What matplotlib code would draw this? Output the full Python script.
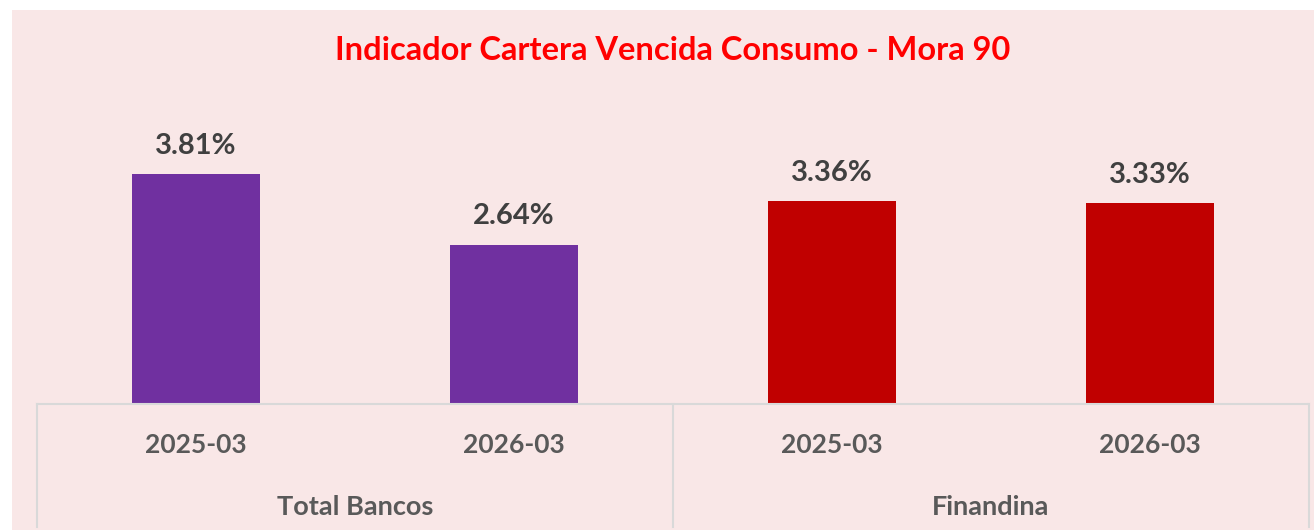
import matplotlib.pyplot as plt
from matplotlib.patches import Rectangle
from matplotlib.lines import Line2D

plt.rcParams['font.family'] = ['Lato', 'DejaVu Sans']

# data
periods = ['2025-03', '2026-03', '2025-03', '2026-03']
values = [3.81, 2.64, 3.36, 3.33]
groups = ['Total Bancos', 'Finandina']
group_sizes = [2, 2]
group_colors = ['#7030A0', '#C00000']

W, H = 1314, 530
fig = plt.figure(figsize=(W / 100, H / 100), dpi=100, facecolor='white')

# pink chart area
fig.patches.append(Rectangle((12 / W, 0), 1 - 12 / W, 1 - 10 / H,
                             transform=fig.transFigure, facecolor='#F9E7E7',
                             edgecolor='none', zorder=-1))

ax_bottom, ax_top = 404, 100
ax = fig.add_axes([37 / W, 1 - ax_bottom / H, (1309 - 37) / W, (ax_bottom - ax_top) / H])
ax.set_facecolor('none')

colors = []
for g, n in enumerate(group_sizes):
    colors += [group_colors[g]] * n

x = list(range(len(values)))
ax.bar(x, values, width=0.4, color=colors, zorder=2)
ax.set_xlim(-0.5, len(values) - 0.5)
ax.set_ylim(0, (ax_bottom - ax_top) / 60.4)

for xi, v in zip(x, values):
    ax.annotate(f'{v:.2f}%', (xi, v), xytext=(0, 11), textcoords='offset points',
                ha='center', va='bottom', fontsize=21, fontweight='bold', color='#404040')

for s in ['top', 'right', 'left']:
    ax.spines[s].set_visible(False)
ax.spines['bottom'].set_color('#D9D9D9')
ax.spines['bottom'].set_linewidth(1.5)
ax.set_yticks([])
ax.set_xticks(x)
ax.set_xticklabels(periods, fontsize=19, fontweight='bold', color='#595959')
ax.tick_params(axis='x', length=0, pad=21)

# group dividers and labels below the axis
depth = (527 - ax_bottom) / (ax_bottom - ax_top)
n_total = len(values)
edges = [0]
for n in group_sizes:
    edges.append(edges[-1] + n)
for e in edges:
    ax.add_line(Line2D([e / n_total] * 2, [0, -depth], transform=ax.transAxes,
                       color='#D9D9D9', lw=1.5, clip_on=False))
for g, name in enumerate(groups):
    mid = (edges[g] + edges[g + 1]) / 2 / n_total
    ax.text(mid, -(507 - ax_bottom) / (ax_bottom - ax_top), name, transform=ax.transAxes,
            ha='center', va='center', fontsize=19.5, fontweight='bold', color='#595959')

fig.text(673 / W, 1 - 50 / H, 'Indicador Cartera Vencida Consumo - Mora 90',
         ha='center', va='center', fontsize=23.5, fontweight='bold', color='#FF0000')

fig.savefig('out.png', dpi=100)
